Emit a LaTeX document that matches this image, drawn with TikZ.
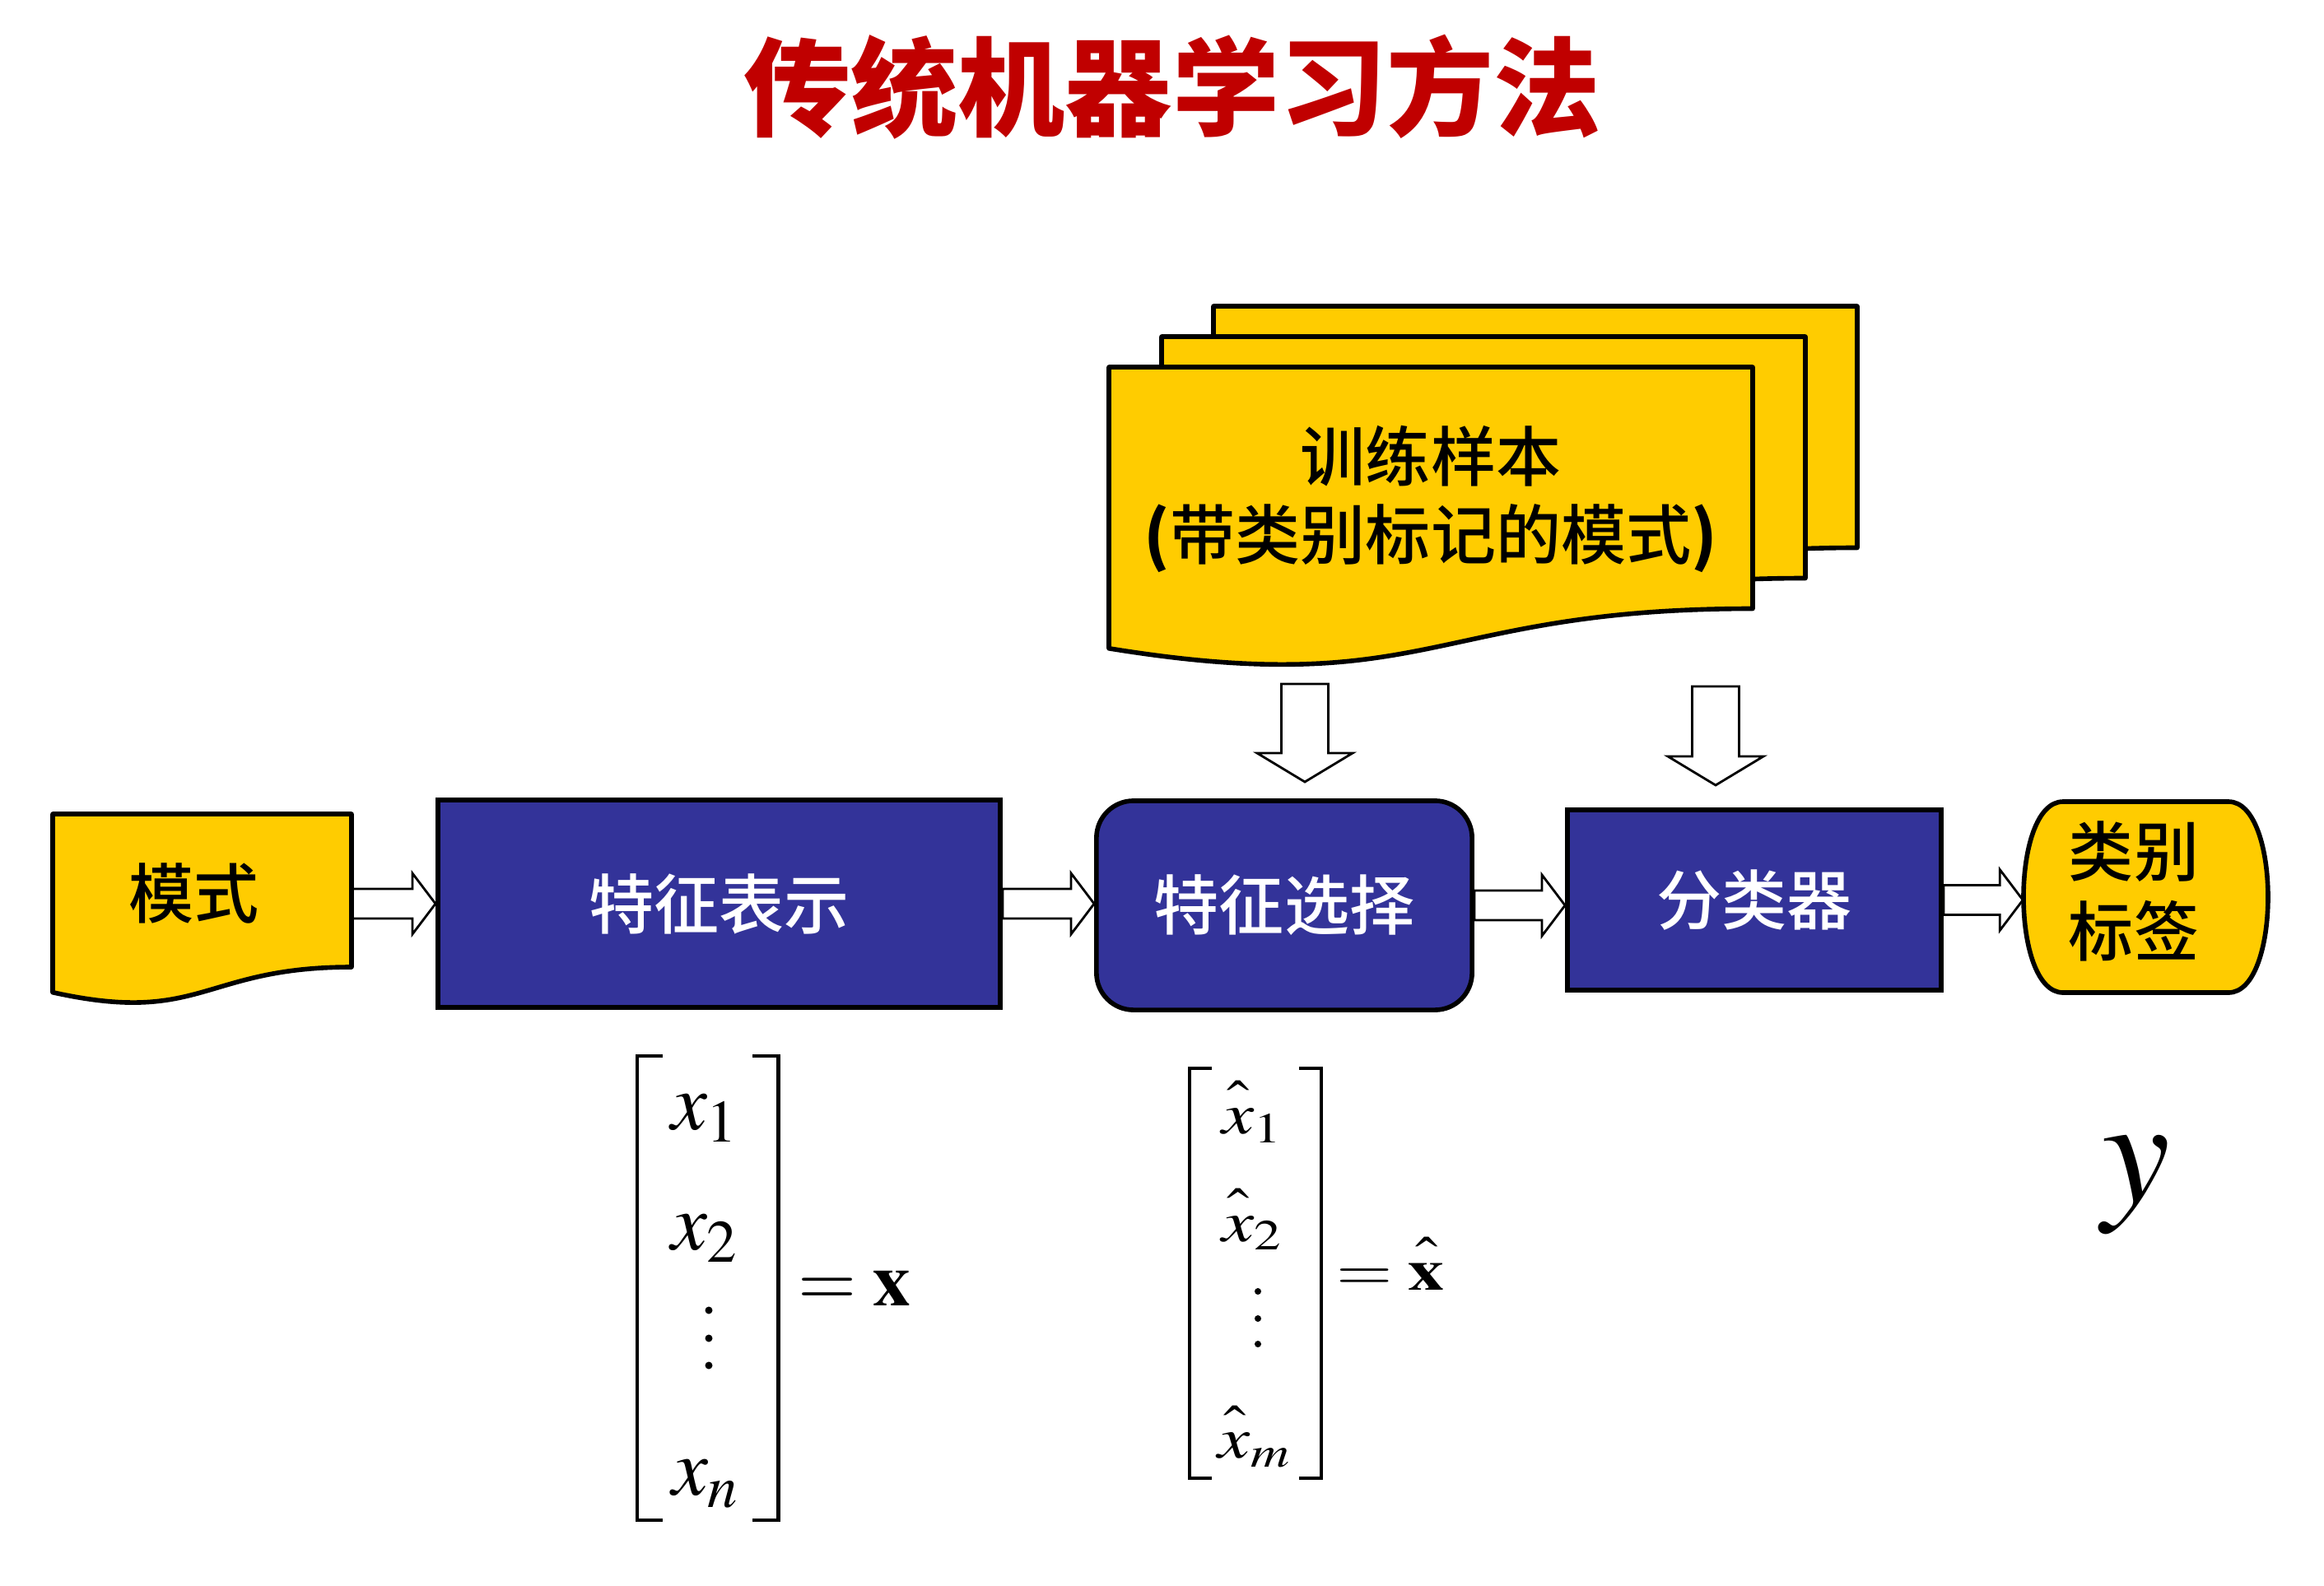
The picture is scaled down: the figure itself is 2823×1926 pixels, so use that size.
\documentclass[tikz,border=0pt]{standalone}
\usepackage{mathptmx}
\usepackage[no-math]{fontspec}
\usepackage{graphicx}
\usetikzlibrary{calc,backgrounds}
\newfontfamily\cjk{Noto Sans CJK SC}
\IfFontExistsTF{Noto Sans CJK SC Medium}
  {\newfontfamily\cjkm{Noto Sans CJK SC Medium}}
  {\newfontfamily\cjkm{Noto Sans CJK SC}[FakeBold=1]}
\definecolor{docyellow}{HTML}{FFCC00}
\definecolor{boxblue}{HTML}{333399}
\definecolor{titlered}{HTML}{C00000}
\begin{document}
\begin{tikzpicture}[x=0.01cm,y=-0.01cm,
  boxline/.style={line width=1.6pt, draw=black},
  bluebox/.style={boxline, fill=boxblue, text=white, font=\cjkm\fontsize{22.5}{27}\selectfont, inner sep=0pt},
  docstyle/.style={boxline, fill=docyellow, line join=round},
  blacktext/.style={font=\cjkm\fontsize{22.5}{27}\selectfont, text=black, inner sep=0pt, align=center},
  mathA/.style={font=\fontsize{28}{34}\selectfont, inner sep=0pt},
  mathB/.style={font=\fontsize{25}{30}\selectfont, inner sep=0pt},
  bracket/.style={line width=1.4pt, draw=black},
  harrow/.style={draw=black, fill=white, line width=0.8pt, line join=miter,
    to path={let \p1=(\tikztostart), \p2=(\tikztotarget) in
      (\x1,\y1+0.18cm) -- (\x2-0.28cm,\y1+0.18cm) -- (\x2-0.28cm,\y1+0.37cm) -- (\x2,\y1)
      -- (\x2-0.28cm,\y1-0.37cm) -- (\x2-0.28cm,\y1-0.18cm) -- (\x1,\y1-0.18cm) -- cycle}},
  varrow/.style={draw=black, fill=white, line width=0.8pt, line join=miter,
    to path={let \p1=(\tikztostart), \p2=(\tikztotarget) in
      (\x1-0.285cm,\y1) -- (\x1-0.285cm,\y2+0.35cm) -- (\x1-0.58cm,\y2+0.35cm) -- (\x1,\y2)
      -- (\x1+0.58cm,\y2+0.35cm) -- (\x1+0.285cm,\y2+0.35cm) -- (\x1+0.285cm,\y1) -- cycle}}
]
\useasboundingbox (0,0) rectangle (2823,1926);

% title
\node[font=\cjk\bfseries\fontsize{37}{44}\selectfont, text=titlered, inner sep=0pt] (title) at (1424,106) {传统机器学习方法};

% pattern document
\draw[docstyle] (64,989) -- (427,989) -- (427,1175) .. controls (245.5,1175) and (245.5,1246) .. (64,1205.7) -- cycle;
\node[blacktext, minimum width=3.63cm] (mode) at (245.5,1085) {\hspace*{-0.2cm}模式};

% training sample documents
\draw[docstyle] (1474,372) -- (2256,372) -- (2256,665.5) .. controls (1865,665.5) and (1865,777.3) .. (1474,713.8) -- cycle;
\draw[docstyle] (1411,409) -- (2193,409) -- (2193,702.5) .. controls (1802,702.5) and (1802,814.3) .. (1411,750.8) -- cycle;
\draw[docstyle] (1347,446) -- (2129,446) -- (2129,739.5) .. controls (1738,739.5) and (1738,851.3) .. (1347,787.8) -- cycle;
\node[blacktext] (train) at (1738,606) {训练样本\\{\cjk\bfseries (}带类别标记的模式{\cjk\bfseries )}};

% process boxes
\node[bluebox, minimum width=6.83cm, minimum height=2.52cm] (rep) at (873.5,1098) {特征表示};
\node[bluebox, rounded corners=0.45cm, minimum width=4.56cm, minimum height=2.54cm] (sel) at (1560,1100) {特征选择};
\node[bluebox, minimum width=4.54cm, minimum height=2.19cm] (cls) at (2131,1093.5) {分类器};

% class label terminator
\draw[boxline, fill=docyellow] (2506,974) -- (2707,974) .. controls (2771,974) and (2771,1206) .. (2707,1206)
  -- (2506,1206) .. controls (2442,1206) and (2442,974) .. (2506,974) -- cycle;
\node[inner sep=0pt, minimum width=2.97cm, minimum height=2.32cm] (lab) at (2606.5,1090) {};
\node[blacktext] (labtext) at (2592,1083) {类别\\[0.6pt]标签};

% down-arrow end points
\coordinate (d1s) at (1585,831);
\coordinate (d1e) at (1585,950);
\coordinate (d2s) at (2084,834);
\coordinate (d2e) at (2084,954);

% vector x
\draw[bracket] (805,1283) -- (774,1283) -- (774,1847) -- (805,1847);
\draw[bracket] (914,1283) -- (945.5,1283) -- (945.5,1847) -- (914,1847);
\node[mathA] (xa) at (856,1359) {$x_1$};
\node[mathA] (xb) at (856,1505) {$x_2$};
\node[mathA] (xc) at (857,1803) {$x_n$};
\fill (861,1592) circle[radius=4.5] (861,1626) circle[radius=4.5] (861,1659) circle[radius=4.5];
\node[font=\fontsize{26}{31}\selectfont, inner sep=0pt] (eqx) at (1038,1565) {$=\mathbf{x}$};

% vector x hat
\draw[bracket] (1472,1298) -- (1445,1298) -- (1445,1796) -- (1472,1796);
\draw[bracket] (1578,1298) -- (1605,1298) -- (1605,1796) -- (1578,1796);
\node[mathB] (ha) at (1521,1351) {\scalebox{1}[0.8]{$\hat{\vphantom{l}x}_1$}};
\node[mathB] (hb) at (1521,1481.5) {\scalebox{1}[0.8]{$\hat{\vphantom{l}x}_2$}};
\node[mathB] (hc) at (1524,1745.5) {\scalebox{1}[0.8]{$\hat{\vphantom{l}x}_m$}};
\fill (1528,1569) circle[radius=4] (1528,1602) circle[radius=4] (1528,1633) circle[radius=4];
\node[mathB] (eqh) at (1689,1536) {\scalebox{1}[0.8]{$=\hat{\vphantom{l}\mathbf{x}}$}};

% y
\node[font=\fontsize{53}{60}\selectfont, inner sep=0pt] (ylab) at (2595,1440) {$y$};

% connectors behind the shapes
\begin{scope}[on background layer]
\fill[white] (0,0) rectangle (2823,1926);
\draw[harrow] (mode.east |- rep.west) to (rep.west);
\draw[harrow] (rep.east) to (sel.west);
\draw[harrow] (sel.east) to (cls.west);
\draw[harrow] (cls.east) to (lab.west);
\draw[varrow] (d1s) to (d1e);
\draw[varrow] (d2s) to (d2e);
\end{scope}
\end{tikzpicture}
\end{document}
